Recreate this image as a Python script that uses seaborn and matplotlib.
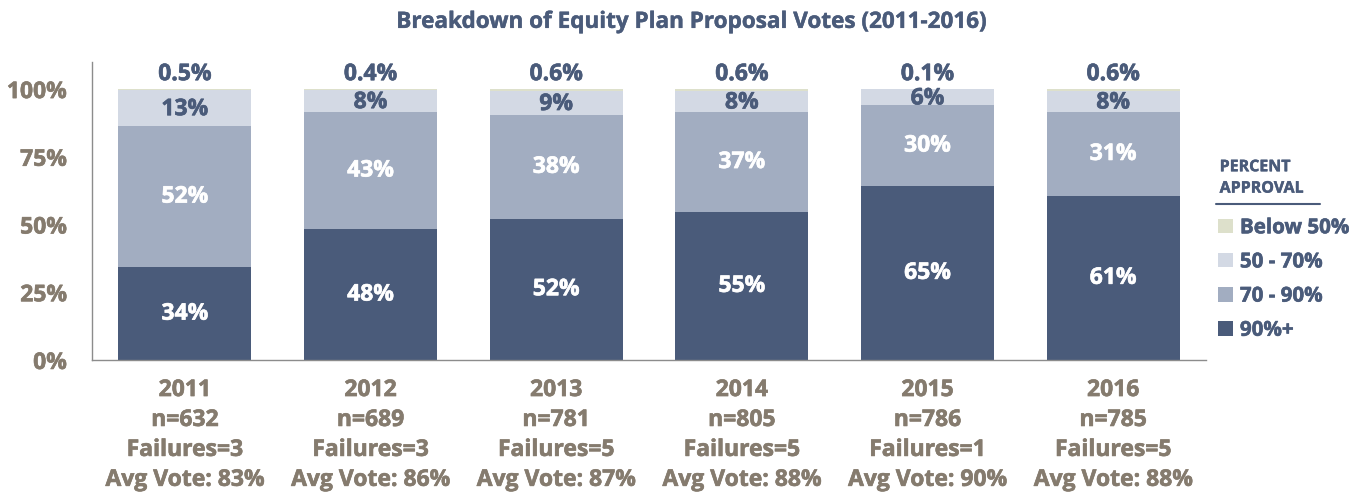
import matplotlib
matplotlib.use("Agg")
import matplotlib.pyplot as plt
import matplotlib.patheffects as pe
import seaborn as sns
import numpy as np
import pandas as pd
from matplotlib.patches import Patch
from matplotlib.lines import Line2D

years = ["2011", "2012", "2013", "2014", "2015", "2016"]
n_props = [632, 689, 781, 805, 786, 785]
failures = [3, 3, 5, 5, 1, 5]
avg_vote = [83, 86, 87, 88, 90, 88]
pct_90plus = [34, 48, 52, 55, 65, 61]
pct_70_90 = [52, 43, 38, 37, 30, 31]
pct_50_70 = [13, 8, 9, 8, 6, 8]
pct_below50 = [0.5, 0.4, 0.6, 0.6, 0.1, 0.6]
series_names = ["Below 50%", "50 - 70%", "70 - 90%", "90%+"]

c_dark = "#4a5b7a"
c_mid = "#a2adc1"
c_light = "#d3d9e4"
c_below = "#dde0cb"
c_tick = "#857b6e"

sns.set_style("white")
plt.rcParams["font.family"] = ["Open Sans", "DejaVu Sans"]
plt.rcParams["font.weight"] = "bold"


def thick(color, lw=0.45):
    return [pe.withStroke(linewidth=lw, foreground=color)]


df = pd.DataFrame({
    "year": years,
    "s90": pct_90plus,
    "s70": pct_70_90,
    "s50": pct_50_70,
    "sb": pct_below50,
})
# the rounded shares are shown as full 100% bars
total = df[["s90", "s70", "s50", "sb"]].sum(axis=1)
for c in ["s90", "s70", "s50", "sb"]:
    df[c + "_n"] = df[c] / total * 100
df["c1"] = df["s90_n"]
df["c2"] = df["c1"] + df["s70_n"]
df["c3"] = df["c2"] + df["s50_n"]
df["c4"] = df["c3"] + df["sb_n"]

fig = plt.figure(figsize=(13.65, 4.97), dpi=100)
ax = fig.add_axes([0.0674, 0.2757, 0.8161, 0.5996])

w = 0.715
for col, color in [("c4", c_below), ("c3", c_light), ("c2", c_mid), ("c1", c_dark)]:
    sns.barplot(data=df, x="year", y=col, color=color, width=w, ax=ax,
                saturation=1, linewidth=0, order=years)

fs = 16.5
ax.set_xlim(-0.5, 5.5)
ax.set_ylim(0, 110)
ax.set_yticks([0, 25, 50, 75, 100])
ax.set_yticklabels(["0%", "25%", "50%", "75%", "100%"], fontsize=fs,
                   fontweight="bold", color=c_tick)
xlabels = [f"{y}\nn={n}\nFailures={f}\nAvg Vote: {a}%"
           for y, n, f, a in zip(years, n_props, failures, avg_vote)]
ax.set_xticks(range(len(years)))
ax.set_xticklabels(xlabels, fontsize=fs, fontweight="bold", color=c_tick,
                   linespacing=1.33)
for t in ax.get_xticklabels() + ax.get_yticklabels():
    t.set_path_effects(thick(c_tick))
ax.tick_params(axis="y", length=0, pad=18)
ax.tick_params(axis="x", length=0, pad=13)
ax.set_xlabel("")
ax.set_ylabel("")
for s in ["top", "right"]:
    ax.spines[s].set_visible(False)
for s in ["left", "bottom"]:
    ax.spines[s].set_color("#8c8c8c")
    ax.spines[s].set_linewidth(1.0)

for i in range(len(years)):
    ax.text(i, df["c1"][i] / 2, f"{pct_90plus[i]}%", ha="center", va="center",
            color="white", fontsize=fs, fontweight="bold",
            path_effects=thick("white"))
    ax.text(i, (df["c1"][i] + df["c2"][i]) / 2, f"{pct_70_90[i]}%", ha="center",
            va="center", color="white", fontsize=fs, fontweight="bold",
            path_effects=thick("white"))
    ax.text(i, (df["c2"][i] + df["c3"][i]) / 2 - 0.4, f"{pct_50_70[i]}%",
            ha="center", va="center", color=c_dark, fontsize=fs,
            fontweight="bold", path_effects=thick(c_dark))
    ax.text(i, 105.5, f"{pct_below50[i]}%", ha="center", va="center",
            color=c_dark, fontsize=fs, fontweight="bold",
            path_effects=thick(c_dark))

fig.text(0.5066, 0.955, "Breakdown of Equity Plan Proposal Votes (2011-2016)",
         ha="center", va="center", fontsize=16.2, fontweight="bold", color=c_dark,
         path_effects=thick(c_dark, 0.3))

# legend
fig.text(0.8935, 0.642, "PERCENT\nAPPROVAL", ha="left", va="center",
         fontsize=11.5, fontweight="bold", color=c_dark, linespacing=1.45,
         path_effects=thick(c_dark, 0.3))
fig.add_artist(Line2D([0.8905, 0.967], [0.59, 0.59], color=c_dark, lw=1.5,
                      transform=fig.transFigure))
handles = [Patch(facecolor=c, edgecolor="none") for c in [c_below, c_light, c_mid, c_dark]]
leg = fig.legend(handles, series_names, loc="upper left",
                 bbox_to_anchor=(0.879, 0.60), frameon=False,
                 fontsize=14.8, handlelength=0.7, handleheight=0.7,
                 handletextpad=0.35, labelspacing=0.64)
for t in leg.get_texts():
    t.set_color(c_dark)
    t.set_fontweight("bold")
    t.set_path_effects(thick(c_dark, 0.4))

fig.savefig("out.png", dpi=100)
